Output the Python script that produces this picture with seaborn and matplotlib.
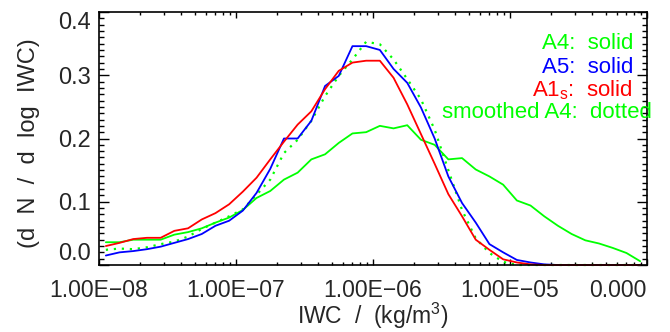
import numpy as np
import pandas as pd
import matplotlib
matplotlib.use("Agg")
import matplotlib.pyplot as plt
import matplotlib.ticker as mticker
import seaborn as sns

# log10 of IWC bin centres (kg/m3)
log_iwc = [-7.95, -7.85, -7.75, -7.65, -7.55, -7.45, -7.35, -7.25, -7.15, -7.05,
           -6.95, -6.85, -6.75, -6.65, -6.55, -6.45, -6.35, -6.25, -6.15, -6.05,
           -5.95, -5.85, -5.75, -5.65, -5.55, -5.45, -5.35, -5.25, -5.15, -5.05,
           -4.95, -4.85, -4.75, -4.65, -4.55, -4.45, -4.35, -4.25, -4.15, -4.05]

a4 = [0.036, 0.036, 0.040, 0.040, 0.040, 0.048, 0.052, 0.058, 0.067, 0.075,
      0.087, 0.106, 0.117, 0.135, 0.146, 0.167, 0.175, 0.193, 0.208, 0.210,
      0.220, 0.216, 0.221, 0.198, 0.190, 0.167, 0.169, 0.151, 0.140, 0.127,
      0.102, 0.094, 0.077, 0.062, 0.049, 0.039, 0.034, 0.027, 0.019, 0.006]

a4_smooth = [0.024, 0.026, 0.025, 0.028, 0.033, 0.037, 0.045, 0.057, 0.067, 0.077,
             0.088, 0.111, 0.135, 0.177, 0.198, 0.228, 0.267, 0.299, 0.325, 0.353,
             0.349, 0.325, 0.294, 0.262, 0.214, 0.150, 0.087, 0.042, 0.019, 0.005,
             0.0, 0.0, 0.0, 0.0, 0.0, 0.0, 0.0, 0.0, 0.0, 0.0]

a5 = [0.015, 0.020, 0.022, 0.025, 0.029, 0.035, 0.041, 0.049, 0.062, 0.070,
      0.086, 0.114, 0.152, 0.200, 0.200, 0.228, 0.283, 0.299, 0.346, 0.346,
      0.340, 0.310, 0.288, 0.249, 0.200, 0.140, 0.098, 0.067, 0.033, 0.020,
      0.008, 0.004, 0.001, 0.0, 0.0, 0.0, 0.0, 0.0, 0.0, 0.0]

a1s = [0.030, 0.035, 0.041, 0.043, 0.043, 0.054, 0.058, 0.072, 0.082, 0.096,
       0.116, 0.138, 0.167, 0.195, 0.222, 0.243, 0.278, 0.307, 0.320, 0.323,
       0.323, 0.296, 0.254, 0.207, 0.160, 0.112, 0.077, 0.040, 0.024, 0.009,
       0.004, 0.001, 0.0, 0.0, 0.0, 0.0, 0.0, 0.0, 0.0, 0.0]

xtick_vals = [1e-8, 1e-7, 1e-6, 1e-5, 1e-4]
xtick_labels = ["1.00E\u221208", "1.00E\u221207", "1.00E\u221206", "1.00E\u221205", "0.000"]
ytick_vals = [0.0, 0.1, 0.2, 0.3, 0.4]
ytick_labels = ["0.0", "0.1", "0.2", "0.3", "0.4"]

sns.set_style("ticks")
plt.rcParams['font.family'] = ['Liberation Sans', 'DejaVu Sans']
plt.rcParams['mathtext.default'] = 'regular'

GREEN, BLUE, RED = "#00ff00", "#0000ff", "#ff0000"

iwc = 10.0 ** np.array(log_iwc)
df = pd.DataFrame({"iwc": iwc, "a4": a4, "a4s": a4_smooth, "a5": a5, "a1s": a1s})

fig = plt.figure(figsize=(6.7, 3.32), dpi=100)
ax = fig.add_axes([99 / 670, 67 / 332, 548 / 670, 253 / 332])

sns.lineplot(data=df, x="iwc", y="a4", ax=ax, color=GREEN, lw=1.3, estimator=None, clip_on=False)
sns.lineplot(data=df, x="iwc", y="a4s", ax=ax, color=GREEN, lw=1.6, estimator=None,
             linestyle=(0, (1, 2.6)), clip_on=False)
sns.lineplot(data=df, x="iwc", y="a5", ax=ax, color=BLUE, lw=1.3, estimator=None, clip_on=False)
sns.lineplot(data=df, x="iwc", y="a1s", ax=ax, color=RED, lw=1.3, estimator=None, clip_on=False)

ax.set_xscale("log")
ax.set_xlim(1e-8, 1e-4)
ax.set_ylim(0, 0.4)

ax.xaxis.set_major_locator(mticker.FixedLocator(xtick_vals))
ax.xaxis.set_major_formatter(mticker.FixedFormatter(xtick_labels))
ax.xaxis.set_minor_locator(mticker.LogLocator(base=10, subs=np.arange(2, 10), numticks=20))
ax.xaxis.set_minor_formatter(mticker.NullFormatter())
ax.yaxis.set_major_locator(mticker.FixedLocator(ytick_vals))
ax.yaxis.set_major_formatter(mticker.FixedFormatter(ytick_labels))
ax.yaxis.set_minor_locator(mticker.MultipleLocator(0.01))

ax.tick_params(axis="both", which="both", direction="in", top=True, right=True,
               color="black", labelsize=17, width=1.0)
ax.tick_params(axis="x", which="major", length=4.5, pad=10, labelsize=16.5)
ax.tick_params(axis="x", which="minor", length=2.3)
ax.tick_params(axis="y", which="major", length=7.2, pad=6)
ax.tick_params(axis="y", which="minor", length=3.6)
for s in ax.spines.values():
    s.set_linewidth(1.2)
    s.set_color("black")

ylabs = ax.get_yticklabels()
ylabs[0].set_va("bottom")
ylabs[-1].set_va("top")
xlabs = ax.get_xticklabels()
xlabs[-1].set_ha("right")

ax.set_xlabel("IWC  /  (kg/m$^3$)", fontsize=16.5, labelpad=-1)
ax.set_ylabel("(d  N  /  d  log  IWC)", fontsize=17)
ax.yaxis.set_label_coords(-0.108, 0.48)

fig.text(633 / 670, 1 - 49 / 332, "A4:  solid", color=GREEN, fontsize=16, ha="right", va="baseline")
fig.text(633 / 670, 1 - 73 / 332, "A5:  solid", color=BLUE, fontsize=16, ha="right", va="baseline")
fig.text(633 / 670, 1 - 96 / 332, "A1$_s$:  solid", color=RED, fontsize=16, ha="right", va="baseline")
fig.text(652 / 670, 1 - 118 / 332, "smoothed A4:  dotted", color=GREEN, fontsize=16, ha="right", va="baseline")

fig.savefig("out.png", dpi=100)
